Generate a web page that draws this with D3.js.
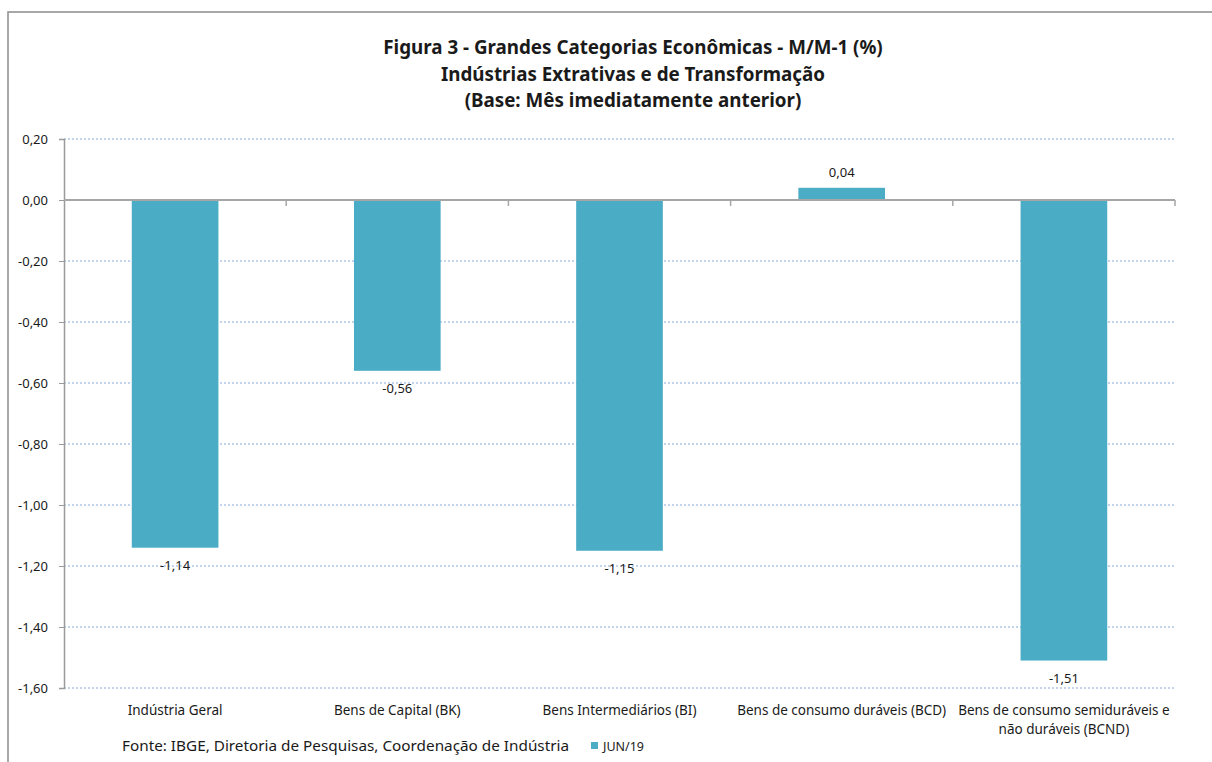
<!DOCTYPE html>
<html>
<head>
<meta charset="utf-8">
<script src="https://cdn.jsdelivr.net/npm/d3@7"></script>
<style>
  body { margin: 0; background: #fff; }
  text { font-family: "Noto Sans", "Open Sans", sans-serif; fill: #1a1a1a; }
</style>
</head>
<body>
<svg id="chart"></svg>
<script>
const categories = [
  "Indústria Geral",
  "Bens de Capital (BK)",
  "Bens Intermediários (BI)",
  "Bens de consumo duráveis (BCD)",
  "Bens de consumo semiduráveis e|não duráveis (BCND)"
];
const values = [-1.14, -0.56, -1.15, 0.04, -1.51];
const yTicks = [0.2, 0, -0.2, -0.4, -0.6, -0.8, -1.0, -1.2, -1.4, -1.6];
const titleLines = [
  "Figura 3 - Grandes Categorias Econômicas - M/M-1 (%)",
  "Indústrias Extrativas e de Transformação",
  "(Base: Mês imediatamente anterior)"
];
const seriesName = "JUN/19";
const sourceText = "Fonte: IBGE, Diretoria de Pesquisas, Coordenação de Indústria";

let width = 1212, height = 762;
let margin = ({top: 139, right: 37, bottom: 74, left: 64});

const br = d3.formatLocale({decimal: ",", thousands: ".", grouping: [3], currency: ["R$", ""], minus: "-"});
const fmt = br.format(".2f");

const svg = d3.select('#chart').attr('width', width).attr('height', height);

// frame
svg.append('path')
  .attr('d', `M8,${height} V12 H${width}`)
  .attr('fill', 'none').attr('stroke', '#8c8c8c').attr('stroke-width', 1.5);

let x = d3.scaleBand()
  .domain(categories)
  .range([margin.left, width - margin.right])
  .padding(0);

let y = d3.scaleLinear()
  .domain([-1.6, 0.2])
  .range([height - margin.bottom, margin.top]);

// title
svg.append('g').selectAll('text')
  .data(titleLines).enter()
  .append('text')
  .attr('x', 633)
  .attr('y', (d, i) => 54 + i * 26.5)
  .attr('text-anchor', 'middle')
  .attr('font-size', 18.8)
  .attr('font-weight', 'bold')
  .text(d => d);

// grid
svg.append('g').selectAll('line')
  .data(yTicks.filter(d => d !== 0)).enter()
  .append('line')
  .attr('x1', margin.left).attr('x2', width - margin.right)
  .attr('y1', d => y(d)).attr('y2', d => y(d))
  .attr('stroke', '#86aadb')
  .attr('stroke-dasharray', '2,2');

// y axis
let yAxis = g => g
  .attr("transform", `translate(${margin.left},0)`)
  .call(d3.axisLeft(y).tickValues(yTicks).tickFormat(fmt).tickSize(5).tickPadding(11))
  .call(g => g.select(".domain").attr('stroke', '#9a9a9a').attr('stroke-width', 1.5))
  .call(g => g.selectAll(".tick line").attr('stroke', '#9a9a9a'))
  .call(g => g.selectAll(".tick text").attr('font-size', 13).attr('fill', '#1a1a1a')
    .attr('font-family', '"Noto Sans", sans-serif'));
svg.append('g').call(yAxis);

// bars
const bw = x.bandwidth() * 0.39;
svg.append('g').selectAll('rect')
  .data(values).enter()
  .append('rect')
  .attr('x', (d, i) => x(categories[i]) + (x.bandwidth() - bw) / 2)
  .attr('y', d => y(Math.max(0, d)))
  .attr('width', bw)
  .attr('height', d => Math.abs(y(d) - y(0)))
  .attr('fill', '#4bacc6');

// zero line with category ticks
svg.append('line')
  .attr('x1', margin.left).attr('x2', width - margin.right)
  .attr('y1', y(0)).attr('y2', y(0))
  .attr('stroke', '#a6a6a6').attr('stroke-width', 2);
svg.append('g').selectAll('line')
  .data(categories).enter()
  .append('line')
  .attr('x1', d => x(d) + x.bandwidth()).attr('x2', d => x(d) + x.bandwidth())
  .attr('y1', y(0)).attr('y2', y(0) + 6)
  .attr('stroke', '#a6a6a6').attr('stroke-width', 1.5);

// value labels
svg.append('g').selectAll('text')
  .data(values).enter()
  .append('text')
  .attr('x', (d, i) => x(categories[i]) + x.bandwidth() / 2)
  .attr('y', d => d < 0 ? y(d) + 22 : y(d) - 11)
  .attr('text-anchor', 'middle')
  .attr('font-size', 13)
  .text(d => fmt(d));

// category labels
const catG = svg.append('g').selectAll('text')
  .data(categories).enter()
  .append('text')
  .attr('x', d => x(d) + x.bandwidth() / 2)
  .attr('y', 715)
  .attr('text-anchor', 'middle')
  .attr('font-size', 13.5);
catG.selectAll('tspan')
  .data(d => d.split('|')).enter()
  .append('tspan')
  .attr('x', function() { return d3.select(this.parentNode).attr('x'); })
  .attr('dy', (d, i) => i === 0 ? 0 : 19)
  .text(d => d);

// source
svg.append('text')
  .attr('x', 122).attr('y', 751)
  .attr('font-size', 15.3)
  .text(sourceText);

// legend
svg.append('rect')
  .attr('x', 591).attr('y', 742).attr('width', 7).attr('height', 7)
  .attr('fill', '#4bacc6');
svg.append('text')
  .attr('x', 603).attr('y', 751)
  .attr('font-size', 12.5)
  .text(seriesName);
</script>
</body>
</html>
